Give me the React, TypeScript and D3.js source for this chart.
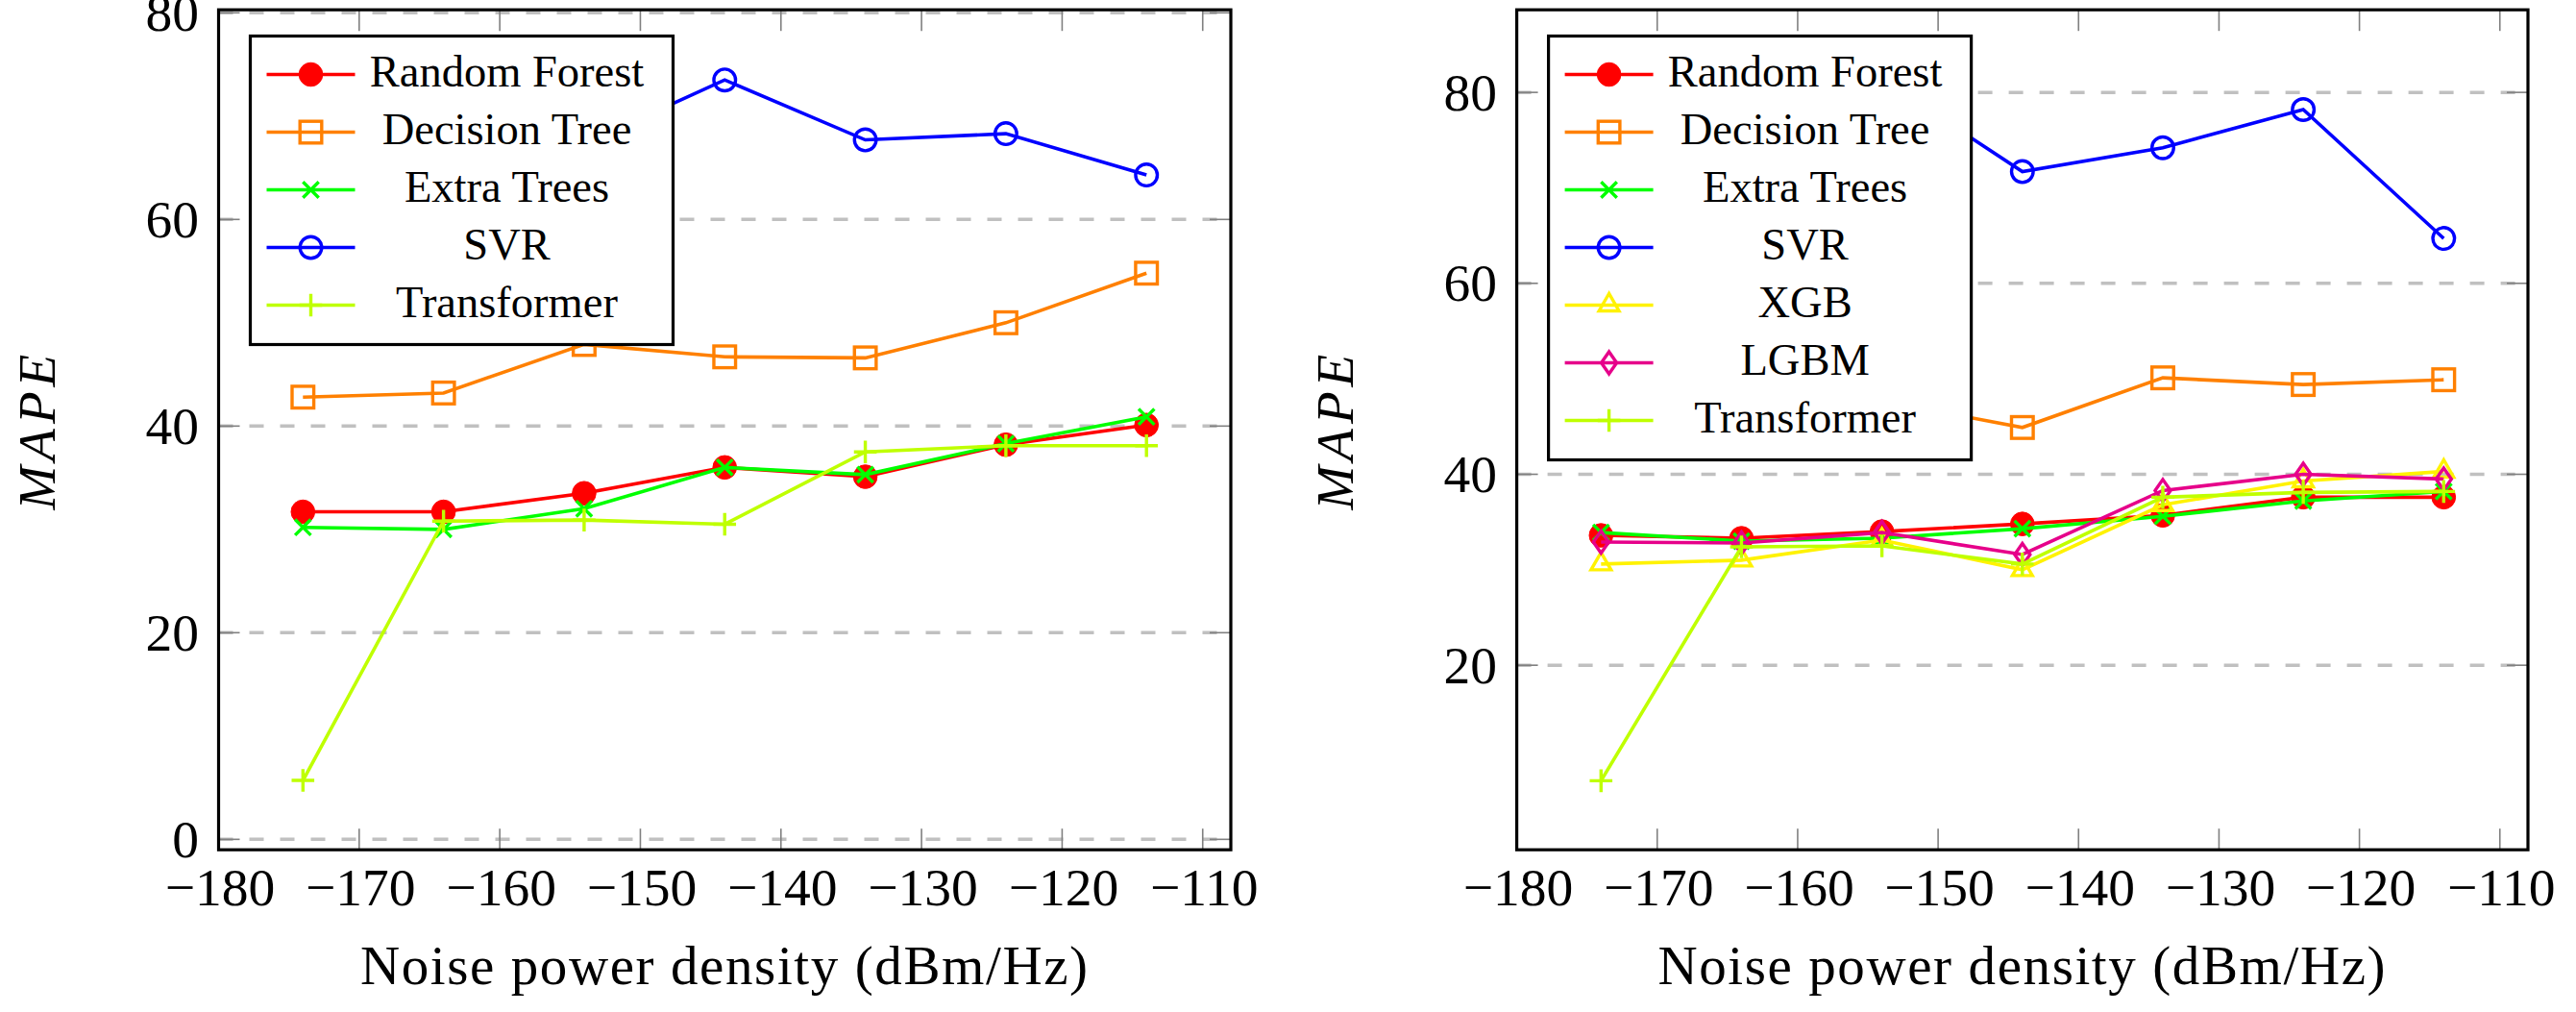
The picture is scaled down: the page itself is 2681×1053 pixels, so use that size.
import React from 'react';
import * as d3 from 'd3';

// ---------- data ----------
const noiseDensity = [-174, -164, -154, -144, -134, -124, -114];
const xTickValues = [-180, -170, -160, -150, -140, -130, -120, -110];
const leftYTicks = [0, 20, 40, 60, 80];
const rightYTicks = [20, 40, 60, 80];

const leftRandomForest = [31.7, 31.7, 33.5, 36.0, 35.1, 38.2, 40.1];
const leftDecisionTree = [42.8, 43.2, 47.9, 46.7, 46.6, 50.0, 54.8];
const leftExtraTrees = [30.2, 30.0, 32.0, 36.0, 35.3, 38.3, 40.9];
const leftSVR = [70.2, 69.5, 67.3, 73.5, 67.7, 68.3, 64.3];
const leftTransformer = [5.7, 30.8, 30.9, 30.5, 37.5, 38.1, 38.1];

const rightRandomForest = [33.6, 33.3, 34.0, 34.8, 35.7, 37.6, 37.6];
const rightDecisionTree = [46.5, 47.0, 47.7, 44.9, 50.1, 49.4, 49.9];
const rightExtraTrees = [33.9, 33.0, 33.3, 34.3, 35.6, 37.2, 38.2];
const rightSVR = [84.0, 82.9, 81.4, 71.7, 74.2, 78.2, 64.7];
const rightXGB = [30.6, 31.0, 33.1, 30.0, 36.8, 39.3, 40.3];
const rightLGBM = [32.9, 32.8, 33.9, 31.6, 38.3, 40.0, 39.5];
const rightTransformer = [7.9, 32.4, 32.5, 30.6, 37.6, 38.1, 38.2];

const xAxisLabel = 'Noise power density (dBm/Hz)';
const yAxisLabel = 'MAPE';

// ---------- styles ----------
type Mark = 'dot' | 'square' | 'x' | 'circle' | 'triangle' | 'diamond' | 'plus';
const styleByName: Record<string, { color: string; mark: Mark }> = {
  'Random Forest': { color: '#ff0000', mark: 'dot' },
  'Decision Tree': { color: '#ff8000', mark: 'square' },
  'Extra Trees': { color: '#00ff00', mark: 'x' },
  SVR: { color: '#0000ff', mark: 'circle' },
  XGB: { color: '#fff200', mark: 'triangle' },
  LGBM: { color: '#e6008a', mark: 'diamond' },
  Transformer: { color: '#bfff00', mark: 'plus' },
};

const leftSeries = [
  { name: 'Random Forest', values: leftRandomForest },
  { name: 'Decision Tree', values: leftDecisionTree },
  { name: 'Extra Trees', values: leftExtraTrees },
  { name: 'SVR', values: leftSVR },
  { name: 'Transformer', values: leftTransformer },
];
const rightSeries = [
  { name: 'Random Forest', values: rightRandomForest },
  { name: 'Decision Tree', values: rightDecisionTree },
  { name: 'Extra Trees', values: rightExtraTrees },
  { name: 'SVR', values: rightSVR },
  { name: 'XGB', values: rightXGB },
  { name: 'LGBM', values: rightLGBM },
  { name: 'Transformer', values: rightTransformer },
];

const FONT = "'Liberation Serif', 'Times New Roman', serif";
const LW = 3.6;

function Marker({ mark, color, x, y }: { mark: Mark; color: string; x: number; y: number }) {
  const s = 11.8;
  const common = { stroke: color, strokeWidth: 3.4, fill: 'none' } as any;
  switch (mark) {
    case 'dot':
      return <circle cx={x} cy={y} r={12.3} fill={color} stroke={color} strokeWidth={1} />;
    case 'circle':
      return <circle cx={x} cy={y} r={s - 0.5} {...common} />;
    case 'square':
      return <rect x={x - s + 0.5} y={y - s + 0.5} width={2 * s - 1} height={2 * s - 1} {...common} />;
    case 'x': {
      const h = 8.2;
      return (
        <path d={`M${x - h},${y - h}L${x + h},${y + h}M${x - h},${y + h}L${x + h},${y - h}`} {...common} />
      );
    }
    case 'plus':
      return <path d={`M${x - s},${y}L${x + s},${y}M${x},${y - s}L${x},${y + s}`} {...common} />;
    case 'triangle': {
      const r = 12;
      const pts = [
        [x, y - r],
        [x - 0.866 * r, y + 0.5 * r],
        [x + 0.866 * r, y + 0.5 * r],
      ];
      return <polygon points={pts.map((p) => p.join(',')).join(' ')} {...common} />;
    }
    case 'diamond': {
      const hy = 11.5;
      const hx = 8;
      return <polygon points={`${x},${y - hy} ${x + hx},${y} ${x},${y + hy} ${x - hx},${y}`} {...common} />;
    }
  }
  return null;
}

function Panel({
  id,
  x0,
  x1,
  yDomain,
  yTicks,
  series,
}: {
  id: string;
  x0: number;
  x1: number;
  yDomain: [number, number];
  yTicks: number[];
  series: { name: string; values: number[] }[];
}) {
  const yTop = 10.2;
  const yBot = 884.2;
  const xScale = d3.scaleLinear().domain([-180, -108]).range([x0, x1]);
  const yScale = d3.scaleLinear().domain(yDomain).range([yBot, yTop]);
  const fmt = d3.format('d');
  const line = d3
    .line<[number, number]>()
    .x((d) => xScale(d[0]))
    .y((d) => yScale(d[1]));

  const legX = x0 + 33;
  const legY = 37.5;
  const legW = 440;
  const legH = 81 + (series.length - 1) * 60;

  return (
    <g>
      <defs>
        <clipPath id={`clip-${id}`}>
          <rect x={x0} y={yTop} width={x1 - x0} height={yBot - yTop} />
        </clipPath>
      </defs>
      {/* grid */}
      {yTicks.map((t) => (
        <line
          key={`g${t}`}
          x1={x0}
          x2={x1}
          y1={yScale(t)}
          y2={yScale(t)}
          stroke="#c0c0c0"
          strokeWidth={3.5}
          strokeDasharray="15 17"
        />
      ))}
      {/* ticks */}
      {yTicks.map((t) => (
        <g key={`yt${t}`}>
          <line x1={x0} x2={x0 + 22} y1={yScale(t)} y2={yScale(t)} stroke="#808080" strokeWidth={1.6} />
          <line x1={x1 - 22} x2={x1} y1={yScale(t)} y2={yScale(t)} stroke="#808080" strokeWidth={1.6} />
          <text
            x={x0 - 20.5}
            y={yScale(t) + 18.5}
            textAnchor="end"
            fontFamily={FONT}
            fontSize={55.5}
            fill="#000"
          >
            {fmt(t)}
          </text>
        </g>
      ))}
      {xTickValues.map((t) => (
        <g key={`xt${t}`}>
          <line x1={xScale(t)} x2={xScale(t)} y1={yBot} y2={yBot - 22} stroke="#808080" strokeWidth={1.6} />
          <line x1={xScale(t)} x2={xScale(t)} y1={yTop} y2={yTop + 22} stroke="#808080" strokeWidth={1.6} />
          <text
            x={xScale(t) + 1.5}
            y={yBot + 57.5}
            textAnchor="middle"
            fontFamily={FONT}
            fontSize={55.5}
            fill="#000"
          >
            {fmt(t)}
          </text>
        </g>
      ))}
      {/* series */}
      <g clipPath={`url(#clip-${id})`}>
        {series.map((s) => {
          const st = styleByName[s.name];
          const pts = noiseDensity.map((x, i) => [x, s.values[i]] as [number, number]);
          return (
            <g key={s.name}>
              <path d={line(pts) || ''} fill="none" stroke={st.color} strokeWidth={LW} />
              {pts.map((p, i) => (
                <Marker key={i} mark={st.mark} color={st.color} x={xScale(p[0])} y={yScale(p[1])} />
              ))}
            </g>
          );
        })}
      </g>
      {/* frame */}
      <rect x={x0} y={yTop} width={x1 - x0} height={yBot - yTop} fill="none" stroke="#000" strokeWidth={3.2} />
      {/* legend */}
      <rect x={legX} y={legY} width={legW} height={legH} fill="#fff" stroke="#000" strokeWidth={3.2} />
      {series.map((s, i) => {
        const st = styleByName[s.name];
        const ry = legY + 40 + i * 60;
        return (
          <g key={`leg${s.name}`}>
            <line x1={legX + 17} x2={legX + 109} y1={ry} y2={ry} stroke={st.color} strokeWidth={LW} />
            <Marker mark={st.mark} color={st.color} x={legX + 63} y={ry} />
            <text
              x={legX + 267}
              y={ry + 12}
              textAnchor="middle"
              fontFamily={FONT}
              fontSize={46.5}
              fill="#000"
            >
              {s.name}
            </text>
          </g>
        );
      })}
      {/* axis labels */}
      <text
        x={(x0 + x1) / 2}
        y={1024}
        textAnchor="middle"
        fontFamily={FONT}
        fontSize={57}
        letterSpacing={1.6}
        fill="#000"
      >
        {xAxisLabel}
      </text>
      <text
        transform={`translate(${x0 - 170.8},${(yTop + yBot) / 2}) rotate(-90)`}
        textAnchor="middle"
        fontFamily={FONT}
        fontStyle="italic"
        fontSize={55}
        letterSpacing={5}
        fill="#000"
      >
        {yAxisLabel}
      </text>
    </g>
  );
}

export default function App() {
  return (
    <svg
      width={2681}
      height={1053}
      viewBox="0 0 2681 1053"
      style={{ position: 'absolute', left: 0, top: 0, background: '#fff' }}
    >
      <rect width={2681} height={1053} fill="#fff" />
      <Panel id="left" x0={227.5} x1={1281} yDomain={[-1.01, 80.29]} yTicks={leftYTicks} series={leftSeries} />
      <Panel id="right" x0={1578.6} x1={2631} yDomain={[0.67, 88.65]} yTicks={rightYTicks} series={rightSeries} />
    </svg>
  );
}
